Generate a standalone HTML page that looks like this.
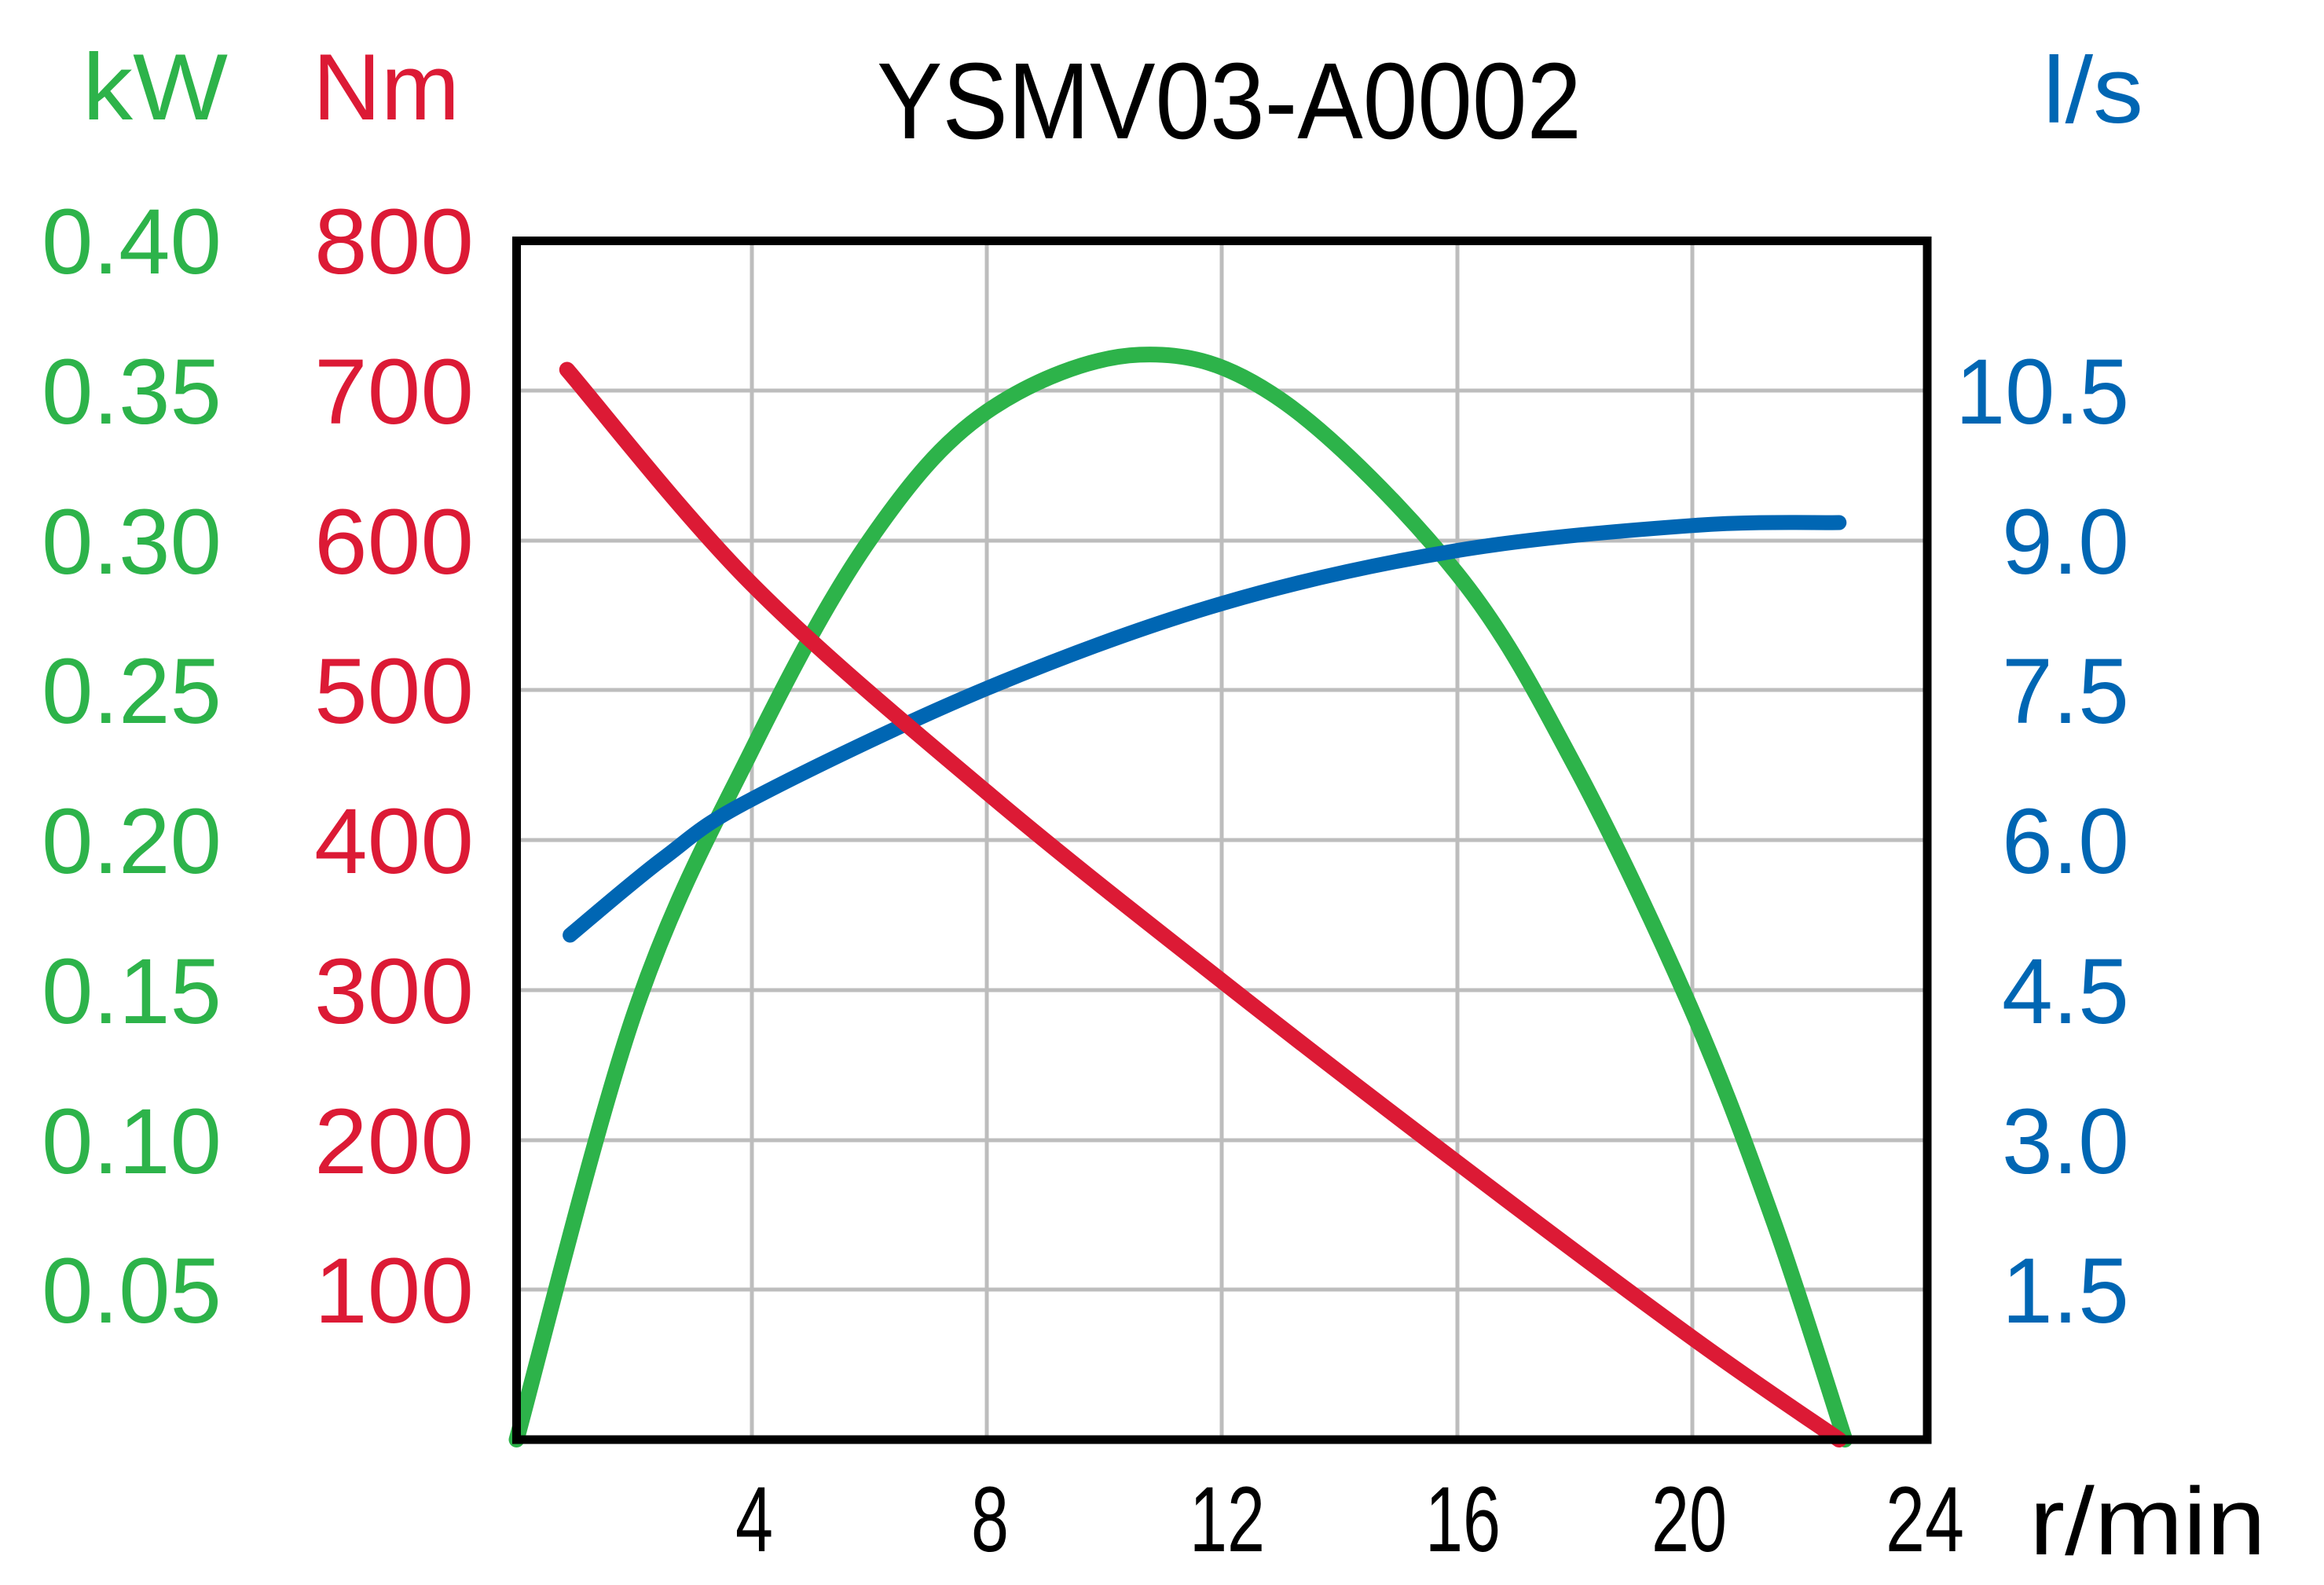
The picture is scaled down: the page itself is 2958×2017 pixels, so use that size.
<!DOCTYPE html>
<html><head><meta charset="utf-8"><style>
html,body{margin:0;padding:0;background:#fff;}
svg{display:block;}
text{font-family:"Liberation Sans","DejaVu Sans",sans-serif;}
</style></head><body>
<svg id="s" width="2958" height="2017" viewBox="0 0 2958 2017" xmlns="http://www.w3.org/2000/svg">
<rect width="2958" height="2017" fill="#fff"/>
<g stroke="#bdbdbd" stroke-width="5">
<line x1="957" y1="306" x2="957" y2="1832"/>
<line x1="1256" y1="306" x2="1256" y2="1832"/>
<line x1="1555" y1="306" x2="1555" y2="1832"/>
<line x1="1855" y1="306" x2="1855" y2="1832"/>
<line x1="2154" y1="306" x2="2154" y2="1832"/>
<line x1="657" y1="497" x2="2453" y2="497"/>
<line x1="657" y1="688" x2="2453" y2="688"/>
<line x1="657" y1="878" x2="2453" y2="878"/>
<line x1="657" y1="1069" x2="2453" y2="1069"/>
<line x1="657" y1="1260" x2="2453" y2="1260"/>
<line x1="657" y1="1451" x2="2453" y2="1451"/>
<line x1="657" y1="1641" x2="2453" y2="1641"/>
</g>
<g id="curves" fill="none" stroke-linecap="round" stroke-linejoin="round"></g>
<rect x="657.5" y="306.5" width="1795.5" height="1525.5" fill="none" stroke="#000" stroke-width="11"/>

<text x="1116" y="176" font-size="138" fill="#000" textLength="897" lengthAdjust="spacingAndGlyphs">YSMV03-A0002</text>
<text x="105" y="152" font-size="120" fill="#2db34a" textLength="185" lengthAdjust="spacingAndGlyphs">kW</text>
<text x="398" y="152" font-size="120" fill="#dc1a35" textLength="187" lengthAdjust="spacingAndGlyphs">Nm</text>
<text x="2600" y="156" font-size="120" fill="#0066b3" textLength="128" lengthAdjust="spacingAndGlyphs">l/s</text>

<g font-size="118" fill="#2db34a">
<text x="53" y="348" textLength="229" lengthAdjust="spacingAndGlyphs">0.40</text>
<text x="53" y="539" textLength="229" lengthAdjust="spacingAndGlyphs">0.35</text>
<text x="53" y="730" textLength="229" lengthAdjust="spacingAndGlyphs">0.30</text>
<text x="53" y="920" textLength="229" lengthAdjust="spacingAndGlyphs">0.25</text>
<text x="53" y="1111" textLength="229" lengthAdjust="spacingAndGlyphs">0.20</text>
<text x="53" y="1302" textLength="229" lengthAdjust="spacingAndGlyphs">0.15</text>
<text x="53" y="1493" textLength="229" lengthAdjust="spacingAndGlyphs">0.10</text>
<text x="53" y="1683" textLength="229" lengthAdjust="spacingAndGlyphs">0.05</text>
</g>
<g font-size="118" fill="#dc1a35">
<text x="400" y="348" textLength="203" lengthAdjust="spacingAndGlyphs">800</text>
<text x="400" y="539" textLength="203" lengthAdjust="spacingAndGlyphs">700</text>
<text x="400" y="730" textLength="203" lengthAdjust="spacingAndGlyphs">600</text>
<text x="400" y="920" textLength="203" lengthAdjust="spacingAndGlyphs">500</text>
<text x="400" y="1111" textLength="203" lengthAdjust="spacingAndGlyphs">400</text>
<text x="400" y="1302" textLength="203" lengthAdjust="spacingAndGlyphs">300</text>
<text x="400" y="1493" textLength="203" lengthAdjust="spacingAndGlyphs">200</text>
<text x="400" y="1683" textLength="203" lengthAdjust="spacingAndGlyphs">100</text>
</g>
<g font-size="118" fill="#0066b3">
<text x="2489" y="539" textLength="221" lengthAdjust="spacingAndGlyphs">10.5</text>
<text x="2548" y="730" textLength="162" lengthAdjust="spacingAndGlyphs">9.0</text>
<text x="2548" y="920" textLength="162" lengthAdjust="spacingAndGlyphs">7.5</text>
<text x="2548" y="1111" textLength="162" lengthAdjust="spacingAndGlyphs">6.0</text>
<text x="2548" y="1302" textLength="162" lengthAdjust="spacingAndGlyphs">4.5</text>
<text x="2548" y="1493" textLength="162" lengthAdjust="spacingAndGlyphs">3.0</text>
<text x="2548" y="1683" textLength="162" lengthAdjust="spacingAndGlyphs">1.5</text>
</g>
<g font-size="118" fill="#000">
<text x="936" y="1974" textLength="48" lengthAdjust="spacingAndGlyphs">4</text>
<text x="1236" y="1974" textLength="48" lengthAdjust="spacingAndGlyphs">8</text>
<text x="1514" y="1974" textLength="96" lengthAdjust="spacingAndGlyphs">12</text>
<text x="1814" y="1974" textLength="96" lengthAdjust="spacingAndGlyphs">16</text>
<text x="2102" y="1974" textLength="96" lengthAdjust="spacingAndGlyphs">20</text>
<text x="2400" y="1974" textLength="100" lengthAdjust="spacingAndGlyphs">24</text>
<text x="2583" y="1978" font-size="122" textLength="301" lengthAdjust="spacingAndGlyphs">r/min</text>
</g>
</svg>
<script>
(function(){
var L=657.5,B=1832,W=1795.5,H=1525.5;
function path(pts,ymax){
  var p=pts.map(function(a){return [L+a[0]/24*W,B-a[1]/ymax*H];});
  var d="M"+p[0][0].toFixed(1)+","+p[0][1].toFixed(1);
  for(var i=0;i<p.length-1;i++){
    var p0=p[i-1]||p[i],p1=p[i],p2=p[i+1],p3=p[i+2]||p[i+1];
    var c1=[p1[0]+(p2[0]-p0[0])/6,p1[1]+(p2[1]-p0[1])/6];
    var c2=[p2[0]-(p3[0]-p1[0])/6,p2[1]-(p3[1]-p1[1])/6];
    d+="C"+c1[0].toFixed(1)+","+c1[1].toFixed(1)+" "+c2[0].toFixed(1)+","+c2[1].toFixed(1)+" "+p2[0].toFixed(1)+","+p2[1].toFixed(1);
  }
  return d;
}
var g=document.getElementById("curves");
function add(pts,ymax,col,w){
  var e=document.createElementNS("http://www.w3.org/2000/svg","path");
  e.setAttribute("d",path(pts,ymax));e.setAttribute("stroke",col);e.setAttribute("stroke-width",w);
  g.appendChild(e);
}
add([[0,0],[2,0.142],[4,0.230],[6,0.300],[8,0.343],[10.6,0.362],[13,0.347],[16,0.289],[18,0.225],[20,0.143],[21.4,0.072],[22.6,0]],0.4,"#2db34a",20);
add([[0.91,5.05],[2.5,5.82],[4,6.41],[8,7.52],[12,8.37],[16,8.90],[20,9.15],[22.5,9.18]],12,"#0066b3",19);
add([[0.86,714],[4,571],[8,432],[12,306],[16,185],[20,68],[22.5,0]],800,"#dc1a35",20);
})();
</script>
</body></html>
